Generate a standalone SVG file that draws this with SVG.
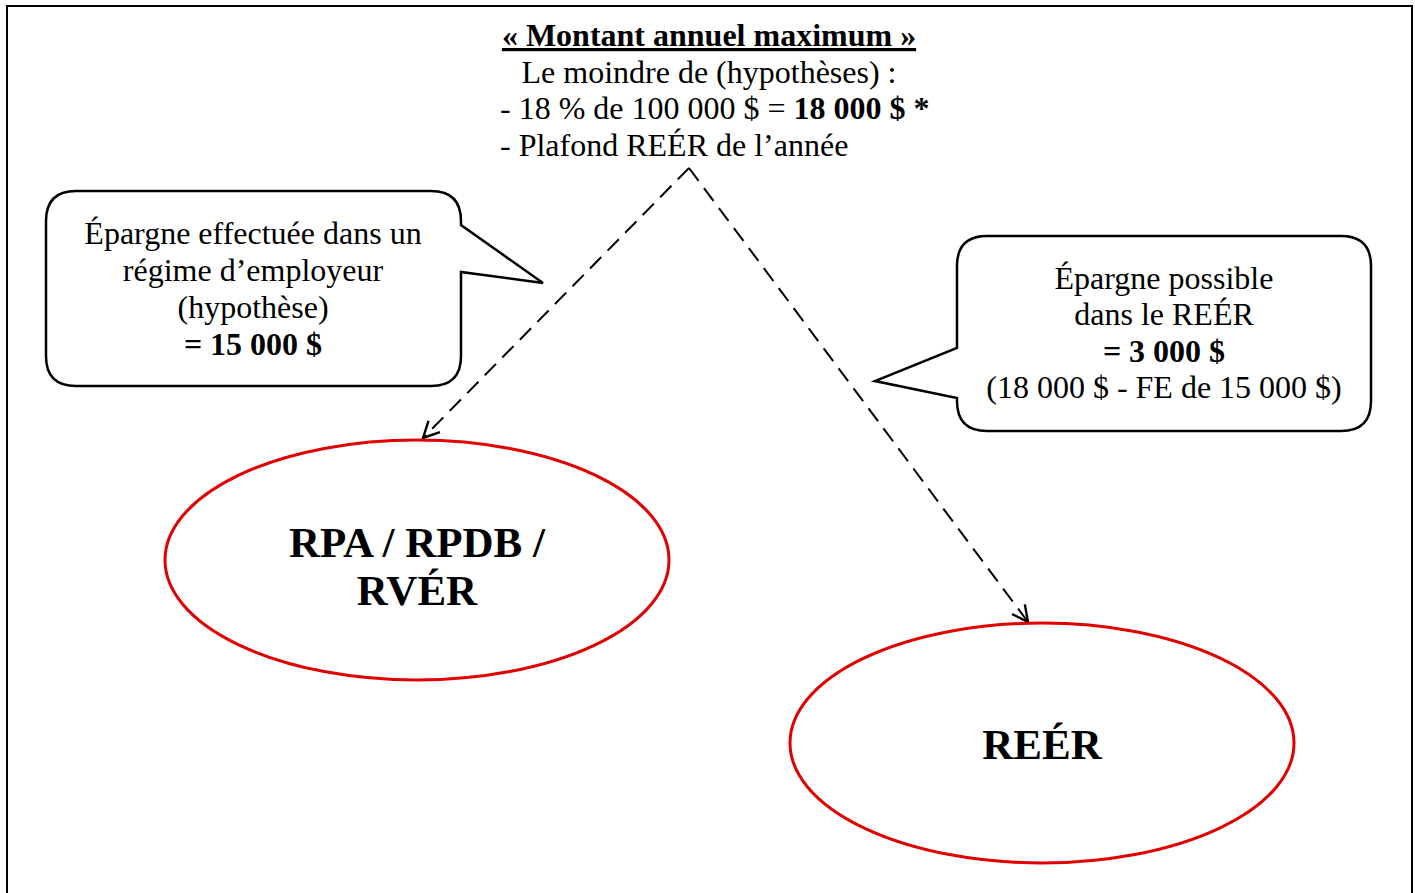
<svg xmlns="http://www.w3.org/2000/svg" width="1415" height="893" viewBox="0 0 1415 893">
<style>
text{font-family:"Liberation Serif","Times New Roman",serif;fill:#000}
.t{font-size:32px;text-anchor:middle}
.l{font-size:32px}
.b{font-weight:bold}
.big{font-size:43px;font-weight:bold;text-anchor:middle}
.call{fill:#fff;stroke:#000;stroke-width:2.5;stroke-linejoin:miter}
.ell{fill:#fff;stroke:#e00000;stroke-width:3}
.dash{fill:none;stroke:#000;stroke-width:2;stroke-dasharray:16 9}
</style>
<defs>
<marker id="arr" viewBox="0 0 20 20" refX="18" refY="10" markerWidth="20" markerHeight="20" markerUnits="userSpaceOnUse" orient="auto">
<path d="M2,2 L18,10 L2,18" fill="none" stroke="#000" stroke-width="2.4"/>
</marker>
</defs>
<rect x="7" y="6" width="1405" height="900" fill="#fff" stroke="#000" stroke-width="2"/>
<g id="title">
<text x="709" y="46" class="t b" text-decoration="underline">« Montant annuel maximum »</text>
<text x="709" y="83" class="t">Le moindre de (hypothèses) :</text>
<text x="500" y="119" class="l">- 18 % de 100 000 $ = <tspan class="b">18 000 $ *</tspan></text>
<text x="500" y="156" class="l">- Plafond REÉR de l’année</text>
</g>
<g id="connectors">
<path class="dash" d="M689,168 L423,438" marker-end="url(#arr)"/>
<path class="dash" d="M689,168 L1028,622" marker-end="url(#arr)"/>
</g>
<g id="callout-left">
<path class="call" d="M76,191 H431 Q461,191 461,221 V225 L543,283 L461,272 V356 Q461,386 431,386 H76 Q46,386 46,356 V221 Q46,191 76,191 Z"/>
<text x="253" y="244" class="t">Épargne effectuée dans un</text>
<text x="253" y="281" class="t">régime d’employeur</text>
<text x="253" y="318" class="t">(hypothèse)</text>
<text x="253" y="355" class="t b">= 15 000 $</text>
</g>
<g id="callout-right">
<path class="call" d="M987,236 H1341 Q1371,236 1371,266 V401 Q1371,431 1341,431 H987 Q957,431 957,401 V398 L875,381 L957,348 V266 Q957,236 987,236 Z"/>
<text x="1164" y="289" class="t">Épargne possible</text>
<text x="1164" y="325" class="t">dans le REÉR</text>
<text x="1164" y="362" class="t b">= 3 000 $</text>
<text x="1164" y="398" class="t">(18 000 $ - FE de 15 000 $)</text>
</g>
<g id="node-rpa">
<ellipse class="ell" cx="417" cy="560" rx="252" ry="120"/>
<text x="417" y="557" class="big">RPA / RPDB /</text>
<text x="417" y="605" class="big">RVÉR</text>
</g>
<g id="node-reer">
<ellipse class="ell" cx="1042" cy="743" rx="252" ry="120"/>
<text x="1042" y="759" class="big">REÉR</text>
</g>
</svg>
